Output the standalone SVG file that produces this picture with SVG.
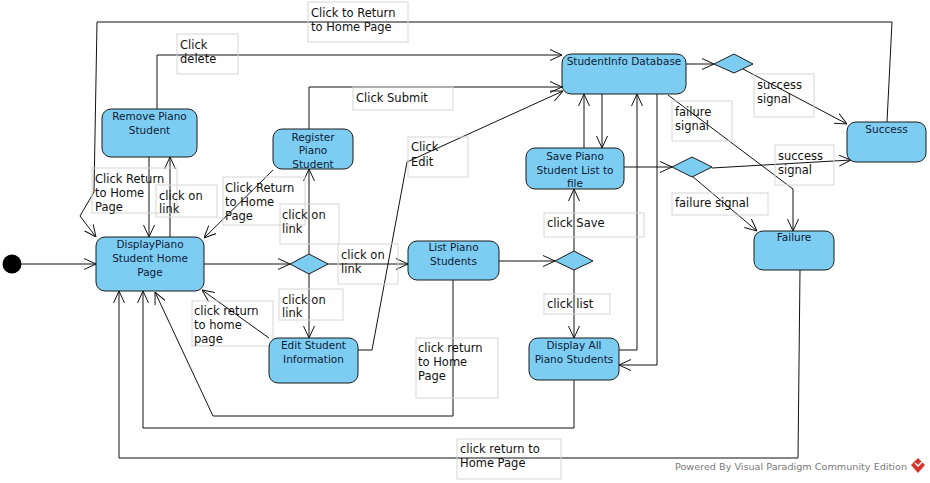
<svg xmlns="http://www.w3.org/2000/svg" width="930" height="483" viewBox="0 0 930 483">
<style>
.node{fill:#7dcdf3;stroke:#1a1a1a;stroke-width:1}
.nt{font-family:"DejaVu Sans",sans-serif;font-size:10.5px;fill:#0d1b33;text-anchor:middle}
.lb{fill:none;stroke:#d6d6d6;stroke-width:1}
.lt{font-family:"DejaVu Sans",sans-serif;font-size:11.5px;fill:#111}
.c{fill:none;stroke:#111;stroke-width:1;marker-end:url(#arr)}
</style>
<defs>
<marker id="arr" viewBox="0 0 12 12" refX="12" refY="6" markerWidth="12" markerHeight="12" markerUnits="userSpaceOnUse" orient="auto">
<path d="M0,0.5 L12,6 L0,11.5" fill="none" stroke="#111" stroke-width="1"/>
</marker>
</defs>
<rect width="930" height="483" fill="#fff"/>
<g id="connectors">
<path class="c" d="M21,264 H96"/>
<path class="c" d="M204,264 H290"/>
<path class="c" d="M309,254 V169"/>
<path class="c" d="M328,264 H408"/>
<path class="c" d="M309,273 V338"/>
<path class="c" d="M273,170 L204,238"/>
<path class="c" d="M149,157 V237"/>
<path class="c" d="M170,237 V157"/>
<path class="c" d="M887,122 L892,22 H97 L94,192 L80,216 L96,237"/>
<path class="c" d="M157,109 V55 H562"/>
<path class="c" d="M309,129 V87 H562"/>
<path class="c" d="M358,350 H372 L407,162 L563,91"/>
<path class="c" d="M499,261 H555"/>
<path class="c" d="M574,251 V189"/>
<path class="c" d="M574,270 V338"/>
<path class="c" d="M584,148 V94"/>
<path class="c" d="M602,94 V148"/>
<path class="c" d="M624,167 H672"/>
<path class="c" d="M712,168 L851,160"/>
<path class="c" d="M692,176 L757,231"/>
<path class="c" d="M686,64 H714"/>
<path class="c" d="M743,69 L847,124"/>
<path class="c" d="M668,95 L793,189 V231"/>
<path class="c" d="M657,94 V365 H619"/>
<path class="c" d="M619,350 H637 V94"/>
<path class="c" d="M453,280 V416 H213 L155,292"/>
<path class="c" d="M574,380 V428 H143 V291"/>
<path class="c" d="M800,270 L798,458 H119 V291"/>
<path class="c" d="M269,338 L202,290"/>
</g>
<g id="labels">
<rect class="lb" x="308" y="2" width="100" height="40"/>
<text class="lt" x="311" y="17">Click to Return</text>
<text class="lt" x="311" y="31">to Home Page</text>
<rect class="lb" x="177" y="34" width="61" height="40"/>
<text class="lt" x="180" y="49">Click</text>
<text class="lt" x="180" y="63">delete</text>
<rect class="lb" x="353" y="87" width="100" height="23"/>
<text class="lt" x="356" y="102">Click Submit</text>
<rect class="lb" x="408" y="137" width="60" height="40"/>
<text class="lt" x="411" y="151">Click</text>
<text class="lt" x="411" y="166">Edit</text>
<rect class="lb" x="92" y="168" width="85" height="45"/>
<text class="lt" x="95" y="183">Click Return</text>
<text class="lt" x="95" y="197">to Home</text>
<text class="lt" x="95" y="211">Page</text>
<rect class="lb" x="156" y="185" width="61" height="32"/>
<text class="lt" x="159" y="200">click on</text>
<text class="lt" x="159" y="213">link</text>
<rect class="lb" x="223" y="177" width="82" height="48"/>
<text class="lt" x="225" y="192">Click Return</text>
<text class="lt" x="225" y="206">to Home</text>
<text class="lt" x="225" y="220">Page</text>
<rect class="lb" x="280" y="204" width="59" height="40"/>
<text class="lt" x="282" y="219">click on</text>
<text class="lt" x="282" y="233">link</text>
<rect class="lb" x="338" y="244" width="60" height="40"/>
<text class="lt" x="341" y="259">click on</text>
<text class="lt" x="341" y="273">link</text>
<rect class="lb" x="279" y="289" width="64" height="31"/>
<text class="lt" x="282" y="304">click on</text>
<text class="lt" x="282" y="317">link</text>
<rect class="lb" x="192" y="301" width="81" height="45"/>
<text class="lt" x="194" y="315">click return</text>
<text class="lt" x="194" y="329">to home</text>
<text class="lt" x="194" y="343">page</text>
<rect class="lb" x="416" y="338" width="82" height="60"/>
<text class="lt" x="418" y="352">click return</text>
<text class="lt" x="418" y="366">to Home</text>
<text class="lt" x="418" y="380">Page</text>
<rect class="lb" x="544" y="213" width="100" height="24"/>
<text class="lt" x="547" y="227">click Save</text>
<rect class="lb" x="544" y="294" width="66" height="20"/>
<text class="lt" x="547" y="308">click list</text>
<rect class="lb" x="457" y="439" width="104" height="40"/>
<text class="lt" x="460" y="453">click return to</text>
<text class="lt" x="460" y="467">Home Page</text>
<rect class="lb" x="672" y="101" width="60" height="40"/>
<text class="lt" x="675" y="116">failure</text>
<text class="lt" x="675" y="130">signal</text>
<rect class="lb" x="754" y="74" width="60" height="43"/>
<text class="lt" x="757" y="89">success</text>
<text class="lt" x="757" y="103">signal</text>
<rect class="lb" x="775" y="145" width="59" height="40"/>
<text class="lt" x="778" y="160">success</text>
<text class="lt" x="778" y="174">signal</text>
<rect class="lb" x="672" y="193" width="96" height="22"/>
<text class="lt" x="675" y="207">failure signal</text>
</g>
<g id="initial"><circle cx="12" cy="264" r="9.5" fill="#000"/></g>
<g id="displayHome">
<rect class="node" x="96" y="237" width="108" height="54" rx="9"/>
<text class="nt" x="150" y="248">DisplayPiano</text>
<text class="nt" x="150" y="262">Student Home</text>
<text class="nt" x="150" y="276">Page</text>
</g>
<g id="removeStudent">
<rect class="node" x="102" y="109" width="95" height="48" rx="9"/>
<text class="nt" x="149.5" y="120">Remove Piano</text>
<text class="nt" x="149.5" y="134">Student</text>
</g>
<g id="registerStudent">
<rect class="node" x="273" y="129" width="80" height="40" rx="9"/>
<text class="nt" x="313" y="141">Register</text>
<text class="nt" x="313" y="154">Piano</text>
<text class="nt" x="313" y="168">Student</text>
</g>
<g id="studentInfoDb">
<rect class="node" x="562" y="54" width="124" height="40" rx="9"/>
<text class="nt" x="624" y="65">StudentInfo Database</text>
</g>
<g id="saveList">
<rect class="node" x="526" y="148" width="98" height="41" rx="9"/>
<text class="nt" x="575" y="160">Save Piano</text>
<text class="nt" x="575" y="174">Student List to</text>
<text class="nt" x="575" y="187">file</text>
</g>
<g id="success">
<rect class="node" x="847" y="122" width="79" height="40" rx="9"/>
<text class="nt" x="886.5" y="133">Success</text>
</g>
<g id="failure">
<rect class="node" x="754" y="231" width="80" height="39" rx="9"/>
<text class="nt" x="794" y="241">Failure</text>
</g>
<g id="listStudents">
<rect class="node" x="408" y="241" width="91" height="39" rx="9"/>
<text class="nt" x="453.5" y="251">List Piano</text>
<text class="nt" x="453.5" y="265">Students</text>
</g>
<g id="editStudent">
<rect class="node" x="269" y="338" width="89" height="45" rx="9"/>
<text class="nt" x="313.5" y="349">Edit Student</text>
<text class="nt" x="313.5" y="363">Information</text>
</g>
<g id="displayAll">
<rect class="node" x="529" y="338" width="90" height="42" rx="9"/>
<text class="nt" x="574" y="349">Display All</text>
<text class="nt" x="574" y="363">Piano Students</text>
</g>
<g id="decision1"><polygon class="node" points="290,264 309,254 328,264 309,274"/></g>
<g id="decision2"><polygon class="node" points="555,261 574,251 593,261 574,270"/></g>
<g id="decision3"><polygon class="node" points="714,64 734,54 753,64 734,73"/></g>
<g id="decision4"><polygon class="node" points="672,167 692,157 712,167 692,177"/></g>
<g id="footer">
<text x="675" y="470" font-family="DejaVu Sans, sans-serif" font-size="9.5" fill="#7a7a7a" textLength="232" lengthAdjust="spacingAndGlyphs">Powered By Visual Paradigm Community Edition</text>
<polygon points="918,458 925,465 918,473 911,465" fill="#d8352a"/>
<path d="M915,463 L918,466 L922,462" fill="none" stroke="#fff" stroke-width="1.5"/>
</g>
</svg>
